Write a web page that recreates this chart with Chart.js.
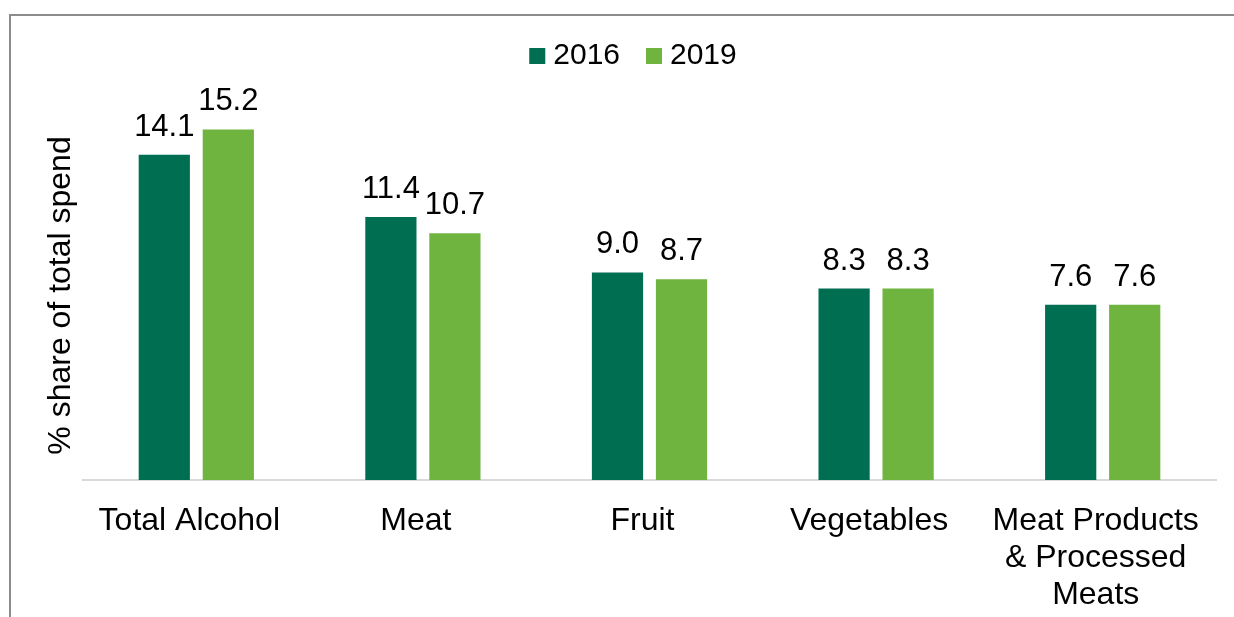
<!DOCTYPE html>
<html>
<head>
<meta charset="utf-8">
<script src="https://cdn.jsdelivr.net/npm/chart.js@4.4.1/dist/chart.umd.min.js"></script>
<style>
  html, body { margin: 0; padding: 0; background: #fff; }
  #wrap { position: relative; width: 1234px; height: 617px; }
  #frame {
    position: absolute; left: 9px; top: 14px; right: 0; bottom: 0;
    border-top: 2px solid #8c8c8c; border-left: 2px solid #8c8c8c;
    pointer-events: none;
  }
</style>
</head>
<body>
<div id="wrap">
  <canvas id="chart" width="1234" height="617"></canvas>
  <div id="frame"></div>
</div>
<script>
const categories = [
  'Total Alcohol',
  'Meat',
  'Fruit',
  'Vegetables',
  ['Meat Products', '& Processed', 'Meats']
];
const values2016 = [14.1, 11.4, 9.0, 8.3, 7.6];
const values2019 = [15.2, 10.7, 8.7, 8.3, 7.6];

const FONT = 'Liberation Sans, Arial, sans-serif';

// value labels drawn above each bar
const barLabels = {
  id: 'barLabels',
  afterDatasetsDraw(chart) {
    const ctx = chart.ctx;
    ctx.save();
    ctx.font = '31px ' + FONT;
    ctx.fillStyle = '#000';
    ctx.textAlign = 'center';
    ctx.textBaseline = 'alphabetic';
    chart.data.datasets.forEach(function(ds, i) {
      chart.getDatasetMeta(i).data.forEach(function(bar, j) {
        ctx.fillText(ds.data[j].toFixed(1), bar.x, bar.y - 19);
      });
    });
    ctx.restore();
  }
};

// legend like the office one: small square, tight gap to the text
const topLegend = {
  id: 'topLegend',
  afterDraw(chart) {
    const ctx = chart.ctx;
    const box = 16, gap = 8, itemGap = 26;
    ctx.save();
    ctx.font = '30px ' + FONT;
    ctx.textBaseline = 'middle';
    ctx.textAlign = 'left';
    const items = chart.data.datasets.map(function(ds) {
      return { text: ds.label, color: ds.backgroundColor, w: ctx.measureText(ds.label).width };
    });
    let total = 0;
    items.forEach(function(it, i) {
      total += box + gap + it.w + (i ? itemGap : 0);
    });
    let x = chart.width / 2 + 16 - total / 2;
    const cy = 56;
    items.forEach(function(it) {
      ctx.fillStyle = it.color;
      ctx.fillRect(x, cy - box / 2, box, box);
      ctx.fillStyle = '#000';
      ctx.fillText(it.text, x + box + gap, cy);
      x += box + gap + it.w + itemGap;
    });
    ctx.restore();
  }
};

new Chart(document.getElementById('chart'), {
  type: 'bar',
  data: {
    labels: categories,
    datasets: [
      { label: '2016', data: values2016, backgroundColor: '#006e50' },
      { label: '2019', data: values2019, backgroundColor: '#6eb43f' }
    ]
  },
  options: {
    responsive: false,
    animation: false,
    layout: { padding: { top: 111, right: 18, bottom: 0, left: 0 } },
    datasets: {
      bar: { categoryPercentage: 0.565, barPercentage: 0.8 }
    },
    plugins: {
      tooltip: { enabled: false },
      legend: { display: false }
    },
    scales: {
      x: {
        grid: { display: false, drawTicks: false },
        border: { display: true, color: '#d9d9d9', width: 2 },
        ticks: {
          color: '#000',
          padding: 23,
          labelOffset: -7,
          maxRotation: 0,
          autoSkip: false,
          font: { family: FONT, size: 32, lineHeight: 1.15 }
        },
        afterFit(scale) { scale.height = 137; }
      },
      y: {
        min: 0,
        max: 16,
        grid: { display: false },
        border: { display: false },
        ticks: { display: false },
        title: {
          display: true,
          text: '% share of total spend',
          color: '#000',
          padding: { top: 42, bottom: 0 },
          font: { family: FONT, size: 32 }
        },
        afterFit(scale) { scale.width = 83; }
      }
    }
  },
  plugins: [barLabels, topLegend]
});
</script>
</body>
</html>
